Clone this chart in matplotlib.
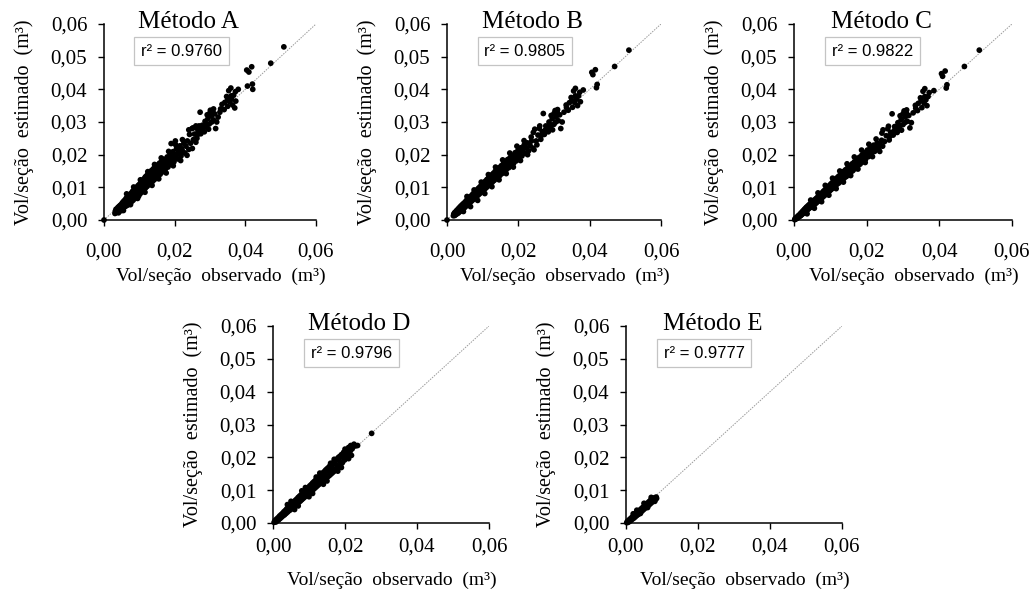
import matplotlib
matplotlib.use('Agg')
import matplotlib.pyplot as plt
import numpy as np
from matplotlib.ticker import FuncFormatter

plt.rcParams['font.family'] = 'Liberation Serif'

# observed / estimated volume per section, in thousandths of m3 (pairs: obs, est)
pts_a = np.array([
    [0.0, 0.0], [3.1, 2.0], [3.2, 2.7], [3.4, 3.3], [3.5, 2.3], [3.6, 3.0], [3.8, 2.6], [3.9, 3.8], [4.0, 3.1],
    [4.1, 2.2], [4.2, 4.1], [4.3, 3.4], [4.4, 2.7], [4.5, 4.4], [4.6, 3.6], [4.7, 3.0], [4.8, 4.7], [4.9, 3.9],
    [5.0, 2.9], [5.1, 4.4], [5.2, 5.3], [5.3, 3.6], [5.4, 4.8], [5.5, 4.1], [5.6, 5.8], [5.7, 3.9], [5.8, 5.1],
    [5.9, 4.5], [6.0, 6.2], [6.1, 4.2], [6.2, 5.6], [6.3, 6.7], [6.4, 4.9], [6.5, 5.9], [6.6, 4.5], [6.7, 6.9],
    [6.8, 5.4], [6.9, 6.3], [7.0, 7.4], [7.1, 5.0], [7.2, 6.6], [7.3, 5.8], [7.4, 7.9], [7.5, 6.1], [7.6, 7.0],
    [7.7, 5.5], [7.8, 8.3], [7.9, 6.6], [8.0, 7.5], [8.1, 8.8], [8.2, 6.0], [8.3, 7.9], [8.4, 7.0], [8.5, 9.2],
    [8.6, 6.5], [8.7, 8.3], [8.8, 7.4], [8.9, 9.7], [9.0, 8.0], [9.1, 6.9], [9.2, 8.8], [9.3, 10.1], [9.4, 7.6],
    [9.5, 9.3], [9.6, 8.3], [9.7, 10.6], [9.8, 7.3], [9.9, 9.6], [10.0, 8.8], [10.1, 11.0], [10.2, 8.0],
    [10.3, 10.2], [10.4, 9.2], [10.5, 11.6], [10.6, 8.5], [10.7, 10.6], [10.8, 9.7], [10.9, 12.1], [11.0, 9.0],
    [11.1, 11.0], [11.2, 10.2], [11.3, 12.6], [11.4, 9.4], [11.5, 11.4], [11.6, 10.7], [11.7, 13.2], [11.8, 9.9],
    [11.9, 11.9], [12.0, 11.1], [12.1, 13.6], [12.2, 10.3], [12.3, 12.4], [12.4, 11.6], [12.5, 14.1], [12.7, 10.8],
    [12.8, 12.9], [12.9, 12.1], [13.0, 14.6], [13.2, 11.3], [13.3, 13.5], [13.4, 12.6], [13.5, 15.2], [13.7, 11.8],
    [13.8, 14.1], [13.9, 13.0], [14.0, 15.7], [14.2, 12.3], [14.3, 14.6], [14.4, 13.5], [14.5, 16.3], [14.7, 12.8],
    [14.8, 15.2], [15.0, 14.0], [15.1, 16.8], [15.3, 13.4], [15.4, 15.7], [15.6, 14.6], [15.7, 17.4], [15.9, 14.0],
    [16.0, 16.3], [16.2, 15.2], [16.3, 18.0], [16.5, 14.7], [16.7, 16.9], [16.9, 15.9], [17.0, 18.6], [17.3, 15.4],
    [17.5, 17.6], [17.7, 16.7], [17.9, 19.3], [18.1, 16.2], [18.3, 18.4], [18.5, 17.5], [18.7, 20.1], [18.9, 17.0],
    [19.1, 19.2], [19.3, 18.4], [19.5, 20.9], [19.8, 17.8], [20.0, 20.0], [20.3, 19.3], [20.5, 21.8], [20.8, 18.7],
    [21.0, 20.9], [21.3, 20.2], [21.5, 22.7], [21.8, 19.6], [22.0, 21.8], [22.3, 21.0], [22.6, 23.5], [22.9, 20.5],
    [23.2, 22.6], [23.6, 24.2], [24.0, 21.6], [24.5, 23.5], [24.9, 28.0], [25.3, 24.6], [25.6, 26.3], [25.9, 28.3],
    [26.3, 25.0], [26.6, 27.3], [26.9, 28.8], [27.2, 33.0], [27.4, 26.4], [27.8, 29.0], [28.2, 28.2], [28.6, 30.2],
    [29.0, 28.6], [29.4, 31.0], [29.8, 29.4], [30.1, 33.6], [30.4, 31.8], [30.7, 33.2], [31.0, 30.6], [31.3, 32.5],
    [31.6, 28.0], [31.9, 30.0], [32.3, 31.5], [33.0, 34.0], [34.2, 36.0], [34.7, 37.8], [35.0, 34.8], [35.3, 39.6],
    [35.6, 36.2], [35.9, 40.4], [36.1, 37.0], [36.4, 35.2], [36.7, 38.2], [37.0, 34.3], [37.3, 36.4], [38.0, 40.0],
    [40.4, 45.9], [40.6, 41.0], [41.0, 45.3], [41.8, 46.9], [42.0, 41.6], [42.1, 40.0], [47.2, 48.0], [50.9, 53.0],
    [5.5, 2.9], [6.4, 8.0], [7.5, 4.7], [8.4, 10.1], [9.5, 6.6], [10.3, 12.3], [11.6, 8.5], [12.4, 14.8],
    [13.6, 10.6], [14.3, 17.0], [15.5, 12.6], [16.2, 19.0], [17.6, 14.4], [18.3, 21.0], [19.6, 16.6], [20.3, 23.0],
    [21.7, 18.2], [22.2, 24.6], [23.5, 19.8], [19.0, 23.4], [20.2, 24.2], [24.2, 26.2], [25.0, 21.9], [26.0, 23.8],
    [24.0, 27.6], [25.2, 28.2], [28.4, 27.0], [29.2, 32.2], [30.0, 32.8], [31.0, 34.0], [32.8, 33.0], [33.4, 35.4],
    [34.0, 33.8], [35.0, 36.8], [36.0, 38.0], [37.2, 39.3], [30.5, 30.0], [29.6, 27.8], [28.8, 29.4], [27.6, 27.8],
    [26.4, 26.0], [26.0, 28.8],
]) / 1000

pts_b = np.array([
    [0.0, 0.0], [1.8, 1.3], [1.9, 1.8], [2.0, 1.5], [2.1, 2.2], [2.2, 1.4], [2.3, 1.9], [2.4, 2.5], [2.5, 1.7],
    [2.6, 2.2], [2.7, 2.9], [2.8, 1.9], [2.9, 2.5], [3.0, 3.2], [3.1, 2.1], [3.2, 2.8], [3.3, 3.6], [3.4, 2.4],
    [3.5, 3.1], [3.6, 3.9], [3.7, 2.7], [3.8, 3.4], [3.9, 4.3], [4.0, 3.0], [4.2, 3.8], [4.3, 4.7], [4.4, 3.3],
    [4.5, 4.1], [4.6, 5.0], [4.7, 3.6], [4.8, 4.5], [4.9, 5.3], [5.0, 3.9], [5.2, 4.9], [5.3, 5.8], [5.4, 4.3],
    [5.5, 5.2], [5.6, 6.1], [5.7, 4.6], [5.9, 5.6], [6.0, 6.5], [6.1, 5.0], [6.2, 5.9], [6.4, 7.0], [6.5, 5.4],
    [6.6, 6.3], [6.8, 7.4], [6.9, 5.8], [7.0, 6.8], [7.2, 7.9], [7.3, 6.2], [7.4, 7.2], [7.6, 8.3], [7.7, 6.6],
    [7.8, 7.6], [8.0, 8.8], [8.1, 7.0], [8.2, 8.0], [8.4, 9.2], [8.5, 7.4], [8.6, 8.5], [8.8, 9.7], [8.9, 7.8],
    [9.0, 8.9], [9.2, 10.1], [9.3, 8.2], [9.4, 9.3], [9.6, 10.6], [9.7, 8.6], [9.8, 9.7], [10.0, 11.0], [10.1, 9.0],
    [10.2, 10.2], [10.4, 11.5], [10.5, 9.4], [10.6, 10.6], [10.8, 11.9], [10.9, 9.8], [11.0, 11.0], [11.2, 12.4],
    [11.3, 10.2], [11.4, 11.5], [11.6, 12.8], [11.7, 10.7], [11.8, 11.9], [12.0, 13.3], [12.2, 11.1], [12.3, 12.4],
    [12.5, 13.8], [12.7, 11.6], [12.8, 12.9], [13.0, 14.3], [13.2, 12.1], [13.3, 13.4], [13.5, 14.9], [13.7, 12.6],
    [13.8, 14.0], [14.0, 15.4], [14.2, 13.1], [14.4, 14.5], [14.6, 16.0], [14.8, 13.6], [15.0, 15.1], [15.2, 16.6],
    [15.4, 14.2], [15.6, 15.7], [15.8, 17.2], [16.0, 14.8], [16.2, 16.3], [16.4, 17.8], [16.6, 15.4], [16.8, 16.9],
    [17.0, 18.5], [17.3, 16.0], [17.5, 17.6], [17.7, 19.1], [18.0, 16.7], [18.2, 18.3], [18.4, 19.8], [18.7, 17.4],
    [18.9, 19.0], [19.1, 20.6], [19.4, 18.1], [19.7, 19.8], [19.9, 21.3], [20.2, 18.8], [20.5, 20.6], [20.7, 22.1],
    [21.0, 19.6], [21.3, 21.4], [21.6, 22.9], [21.9, 20.4], [22.2, 22.1], [22.5, 23.6], [22.9, 21.2], [23.3, 22.8],
    [23.7, 24.2], [24.1, 22.0], [24.6, 27.8], [25.0, 24.2], [25.5, 26.0], [25.9, 28.0], [26.3, 24.7], [26.7, 27.0],
    [27.0, 32.6], [27.3, 26.2], [27.7, 28.8], [28.2, 28.0], [28.6, 30.0], [29.0, 28.4], [29.5, 31.0], [30.0, 29.3],
    [30.3, 33.5], [30.6, 31.6], [30.9, 33.0], [31.2, 30.4], [31.6, 32.2], [31.9, 28.0], [32.3, 30.0], [33.5, 34.4],
    [34.3, 35.9], [34.8, 37.5], [35.2, 34.5], [35.5, 39.5], [35.8, 36.0], [36.0, 40.3], [36.3, 37.0], [36.6, 35.0],
    [36.9, 38.0], [37.4, 36.2], [38.2, 39.8], [40.6, 45.2], [40.9, 44.5], [41.6, 46.0], [41.9, 40.5], [42.1, 41.5],
    [47.0, 47.0], [51.0, 52.0],
    [4.6, 2.6], [5.6, 7.2], [6.6, 4.1], [7.6, 9.2], [8.6, 6.0], [9.6, 11.6], [10.6, 8.1], [11.6, 13.9],
    [12.6, 10.2], [13.6, 16.2], [14.6, 12.3], [15.6, 18.4], [16.6, 14.2], [17.6, 20.5], [18.6, 16.2], [19.6, 22.6],
    [20.6, 18.2], [21.6, 24.3], [22.6, 20.0], [23.6, 25.4], [24.4, 21.5], [25.2, 23.0], [24.2, 26.8], [26.0, 28.8],
    [28.4, 27.0], [29.2, 32.0], [30.0, 32.6], [31.0, 33.8], [32.8, 33.0], [33.4, 35.2], [34.0, 33.6], [35.0, 36.6],
    [36.0, 38.0], [37.2, 39.1], [30.5, 30.0], [29.6, 27.6], [28.8, 29.3], [27.6, 27.6], [26.4, 25.8],
]) / 1000

pts_c = np.array([
    [0.2, 0.1], [0.3, 0.4], [0.5, 0.3], [0.6, 0.7], [0.8, 0.5], [0.9, 1.0], [1.0, 0.7], [1.2, 1.3], [1.3, 0.9],
    [1.4, 1.5], [1.5, 1.1], [1.7, 1.8], [1.8, 1.3], [1.9, 2.1], [2.0, 1.5], [2.2, 2.4], [2.3, 1.8], [2.4, 2.7],
    [2.5, 2.0], [2.7, 3.0], [2.8, 2.2], [2.9, 3.3], [3.0, 2.5], [3.2, 3.6], [3.3, 2.7], [3.4, 3.9], [3.5, 3.0],
    [3.7, 4.1], [3.8, 3.2], [3.9, 4.4], [4.0, 3.5], [4.2, 4.7], [4.3, 3.7], [4.4, 4.2], [4.5, 5.0], [4.6, 3.9],
    [4.8, 4.6], [4.9, 5.4], [5.0, 4.2], [5.2, 5.0], [5.3, 5.8], [5.4, 4.5], [5.6, 5.4], [5.7, 6.2], [5.8, 4.9],
    [6.0, 5.8], [6.1, 6.6], [6.2, 5.3], [6.4, 6.2], [6.5, 7.0], [6.6, 5.7], [6.8, 6.6], [6.9, 7.5], [7.0, 6.1],
    [7.2, 7.0], [7.3, 7.9], [7.4, 6.5], [7.6, 7.4], [7.7, 8.3], [7.8, 6.9], [8.0, 7.8], [8.1, 8.8], [8.2, 7.3],
    [8.4, 8.2], [8.5, 9.2], [8.6, 7.7], [8.8, 8.6], [8.9, 9.6], [9.0, 8.1], [9.2, 9.1], [9.3, 10.1], [9.4, 8.5],
    [9.6, 9.5], [9.7, 10.5], [9.8, 8.9], [10.0, 9.9], [10.1, 11.0], [10.2, 9.3], [10.4, 10.3], [10.5, 11.4],
    [10.6, 9.7], [10.8, 10.8], [10.9, 11.9], [11.0, 10.1], [11.2, 11.2], [11.3, 12.3], [11.4, 10.5], [11.6, 11.6],
    [11.7, 12.8], [11.8, 10.9], [12.0, 12.0], [12.2, 13.3], [12.3, 11.3], [12.5, 12.5], [12.7, 13.8], [12.8, 11.8],
    [13.0, 13.0], [13.2, 14.3], [13.3, 12.3], [13.5, 13.5], [13.7, 14.9], [13.8, 12.8], [14.0, 14.0], [14.2, 15.4],
    [14.4, 13.3], [14.6, 14.6], [14.8, 16.0], [15.0, 13.9], [15.2, 15.2], [15.4, 16.6], [15.6, 14.5], [15.8, 15.8],
    [16.0, 17.2], [16.2, 15.1], [16.4, 16.4], [16.6, 17.8], [16.8, 15.7], [17.0, 17.0], [17.3, 18.5], [17.5, 16.4],
    [17.7, 17.7], [18.0, 19.2], [18.2, 17.1], [18.4, 18.4], [18.7, 19.9], [18.9, 17.8], [19.1, 19.1], [19.4, 20.6],
    [19.7, 18.6], [19.9, 19.9], [20.2, 21.4], [20.5, 19.4], [20.7, 20.7], [21.0, 22.2], [21.3, 20.2], [21.6, 21.5],
    [21.9, 22.9], [22.2, 21.0], [22.5, 22.3], [22.9, 23.6], [23.3, 21.8], [23.7, 23.1], [24.1, 24.4], [24.5, 27.6],
    [24.9, 24.0], [25.4, 25.8], [25.8, 27.9], [26.2, 24.5], [26.6, 26.8], [27.0, 32.5], [27.3, 26.0], [27.7, 28.6],
    [28.1, 27.8], [28.6, 29.8], [29.0, 28.3], [29.5, 30.8], [30.0, 29.2], [30.3, 33.4], [30.6, 31.5], [30.9, 32.8],
    [31.2, 30.2], [31.6, 32.0], [31.9, 28.2], [32.3, 29.8], [33.5, 34.2], [34.2, 35.7], [34.8, 37.4], [35.2, 34.4],
    [35.5, 39.4], [35.8, 35.8], [36.0, 40.2], [36.3, 36.8], [36.6, 35.0], [36.9, 37.8], [38.5, 39.6], [40.6, 44.8],
    [40.9, 44.0], [41.6, 45.6], [41.9, 40.4], [42.1, 41.4], [46.9, 47.0], [51.0, 52.0],
    [3.6, 1.9], [4.6, 6.1], [5.6, 3.6], [6.6, 8.3], [7.6, 5.6], [8.6, 10.6], [9.6, 7.6], [10.6, 12.8],
    [11.6, 9.6], [12.6, 15.0], [13.6, 11.6], [14.6, 17.2], [15.6, 13.6], [16.6, 19.3], [17.6, 15.6], [18.6, 21.4],
    [19.6, 17.6], [20.6, 23.2], [21.6, 19.4], [22.6, 24.8], [23.6, 21.0], [24.4, 22.6], [24.2, 26.6], [26.0, 28.7],
    [28.4, 26.8], [29.2, 31.9], [30.0, 32.5], [31.0, 33.7], [32.8, 32.8], [33.4, 35.1], [34.0, 33.5], [35.0, 36.5],
    [36.0, 37.8], [37.2, 39.0], [30.5, 29.8], [29.6, 27.5], [28.8, 29.2], [27.6, 27.4], [26.4, 25.6],
]) / 1000

pts_d = np.array([
    [0.3, 0.2], [0.6, 0.8], [0.8, 0.3], [1.0, 1.2], [1.2, 0.7], [1.4, 1.6], [1.6, 1.0], [1.8, 2.1], [2.0, 1.4],
    [2.2, 2.5], [2.4, 1.8], [2.6, 2.9], [2.8, 2.2], [3.0, 3.4], [3.2, 2.5], [3.4, 3.8], [3.6, 2.9], [3.8, 4.3],
    [4.0, 3.3], [4.2, 4.7], [4.4, 3.7], [4.6, 5.1], [4.8, 4.0], [5.0, 5.6], [5.2, 4.4], [5.4, 6.0], [5.6, 4.8],
    [5.8, 6.4], [6.0, 5.2], [6.2, 6.9], [6.4, 5.6], [6.6, 7.3], [6.8, 6.0], [7.0, 7.8], [7.2, 6.3], [7.4, 8.2],
    [7.6, 6.7], [7.8, 8.6], [8.0, 7.1], [8.2, 9.1], [8.4, 7.5], [8.6, 9.5], [8.8, 7.9], [9.0, 10.0], [9.2, 8.3],
    [9.4, 10.4], [9.6, 8.7], [9.8, 10.8], [10.0, 9.0], [10.2, 11.3], [10.4, 9.4], [10.6, 11.7], [10.8, 9.8],
    [11.0, 12.2], [11.2, 10.2], [11.4, 12.6], [11.6, 10.6], [11.8, 13.0], [12.0, 11.0], [12.2, 13.5], [12.4, 11.4],
    [12.6, 13.9], [12.8, 11.8], [13.0, 14.3], [13.2, 12.1], [13.4, 14.8], [13.6, 12.5], [13.8, 15.2], [14.0, 12.9],
    [14.2, 15.6], [14.4, 13.3], [14.6, 16.1], [14.8, 13.7], [15.0, 16.5], [15.2, 14.1], [15.4, 16.9], [15.6, 14.4],
    [15.8, 17.4], [16.0, 14.8], [16.2, 17.8], [16.4, 15.2], [16.6, 18.2], [16.8, 15.6], [17.0, 18.7], [17.2, 16.0],
    [17.4, 19.1], [17.6, 16.4], [17.8, 19.5], [18.0, 16.8], [18.2, 20.0], [18.4, 17.3], [18.6, 20.3], [18.8, 17.8],
    [19.0, 20.8], [19.3, 18.4], [19.6, 21.5], [19.9, 19.2], [20.2, 22.0], [20.6, 20.0], [21.0, 23.0], [21.3, 21.0],
    [21.6, 23.6], [22.0, 22.6], [22.4, 23.4], [23.0, 23.5], [23.5, 23.6], [27.4, 27.3],
    [1.5, 1.4], [2.5, 2.4], [3.5, 3.4], [4.5, 4.4], [5.5, 5.4], [6.5, 6.5], [7.5, 7.5], [8.5, 8.5], [9.5, 9.6],
    [10.5, 10.6], [11.5, 11.6], [12.5, 12.7], [13.5, 13.7], [14.5, 14.7], [15.5, 15.7], [16.5, 16.7], [17.5, 17.8],
    [18.5, 18.9], [19.5, 20.0], [20.5, 21.0], [21.5, 22.0],
    [4.0, 5.6], [6.0, 4.1], [8.0, 9.8], [10.0, 8.0], [12.0, 14.0], [14.0, 11.8], [16.0, 18.2], [18.0, 15.8],
    [20.0, 22.5], [5.0, 6.6], [7.0, 5.2], [9.0, 10.8], [11.0, 9.0], [13.0, 15.2], [15.0, 12.8], [17.0, 19.4],
    [19.0, 16.9], [21.0, 19.6], [22.5, 24.0], [21.8, 20.6],
]) / 1000

pts_e = np.array([
    [0.2, 0.1], [0.4, 0.5], [0.6, 0.2], [0.8, 0.9], [1.0, 0.5], [1.2, 1.3], [1.4, 0.8], [1.6, 1.7], [1.8, 1.2],
    [2.0, 2.1], [2.2, 1.5], [2.4, 2.5], [2.6, 1.9], [2.8, 2.9], [3.0, 2.3], [3.2, 3.3], [3.4, 2.6], [3.6, 3.7],
    [3.8, 3.0], [4.0, 4.1], [4.2, 3.4], [4.4, 4.5], [4.6, 3.8], [4.8, 4.9], [5.0, 4.2], [5.2, 5.3], [5.4, 4.6],
    [5.6, 5.7], [5.8, 5.0], [6.0, 6.1], [6.2, 5.3], [6.4, 6.5], [6.6, 5.7], [6.8, 6.9], [7.0, 6.1], [7.2, 7.2],
    [7.4, 6.5], [7.6, 7.5], [7.8, 6.8], [8.0, 7.7], [8.2, 7.2], [8.4, 7.9], [8.5, 7.5],
    [1.1, 0.9], [1.9, 1.7], [2.7, 2.4], [3.5, 3.2], [4.3, 4.0], [5.1, 4.8], [5.9, 5.6], [6.7, 6.3], [7.5, 7.0],
    [2.0, 2.8], [3.0, 3.9], [4.0, 2.9], [5.0, 6.0], [6.0, 4.7], [7.0, 7.8], [8.0, 6.6],
]) / 1000

titles = ['Método A', 'Método B', 'Método C', 'Método D', 'Método E']
r2_vals = ['0.9760', '0.9805', '0.9822', '0.9796', '0.9777']
ticks = [0.0, 0.02, 0.04, 0.06]
yticks = [0.0, 0.01, 0.02, 0.03, 0.04, 0.05, 0.06]

W, H = 1035, 591
# axes box in pixels: left, right, top, bottom
boxes = [(104, 316, 24, 220), (447, 661, 24, 220), (794, 1012, 24, 220),
         (273, 489, 326, 523), (626, 842, 326, 523)]
data = [pts_a, pts_b, pts_c, pts_d, pts_e]

fmt = FuncFormatter(lambda v, p: f"{v:.2f}".replace('.', ','))

fig = plt.figure(figsize=(W / 100, H / 100), dpi=100)

for i, ((l, r, t, b), pts, title, r2) in enumerate(zip(boxes, data, titles, r2_vals)):
    top_row = i < 3
    ax = fig.add_axes([l / W, 1 - b / H, (r - l) / W, (b - t) / H])
    ax.plot([0, 0.06], [0, 0.06], color='#9a9a9a', lw=0.7, ls=(0, (1.5, 1.2)), zorder=1)
    ax.scatter(pts[:, 0], pts[:, 1], s=17, color='black', edgecolors='none', clip_on=False, zorder=2)
    ax.set_xlim(0, 0.06)
    ax.set_ylim(0, 0.06)
    ax.set_xticks(ticks)
    ax.set_yticks(yticks)
    ax.xaxis.set_major_formatter(fmt)
    ax.yaxis.set_major_formatter(fmt)
    for s in ['top', 'right']:
        ax.spines[s].set_visible(False)
    for s in ['left', 'bottom']:
        ax.spines[s].set_linewidth(1.1)
    ax.tick_params(direction='out', length=4, width=1.0, labelsize=15)
    ax.tick_params(axis='x', pad=12 if top_row else 6.5)
    ax.tick_params(axis='y', pad=8)
    ax.set_xlabel('Vol/seção  observado  (m³)', fontsize=14)
    ax.xaxis.set_label_coords(0.55, -0.245)
    ax.set_ylabel('Vol/seção  estimado  (m³)', fontsize=14.5, labelpad=12)
    ax.text(0.024, 0.0605, title, fontsize=18, ha='center', va='center')
    ax.text(0.0105, 0.0517, 'r² = ' + r2, fontsize=12, family='Liberation Sans',
            ha='left', va='center',
            bbox=dict(boxstyle='square,pad=0.4', fc='white', ec='#c4c4c4', lw=0.9))

fig.savefig('out.png', dpi=100)
